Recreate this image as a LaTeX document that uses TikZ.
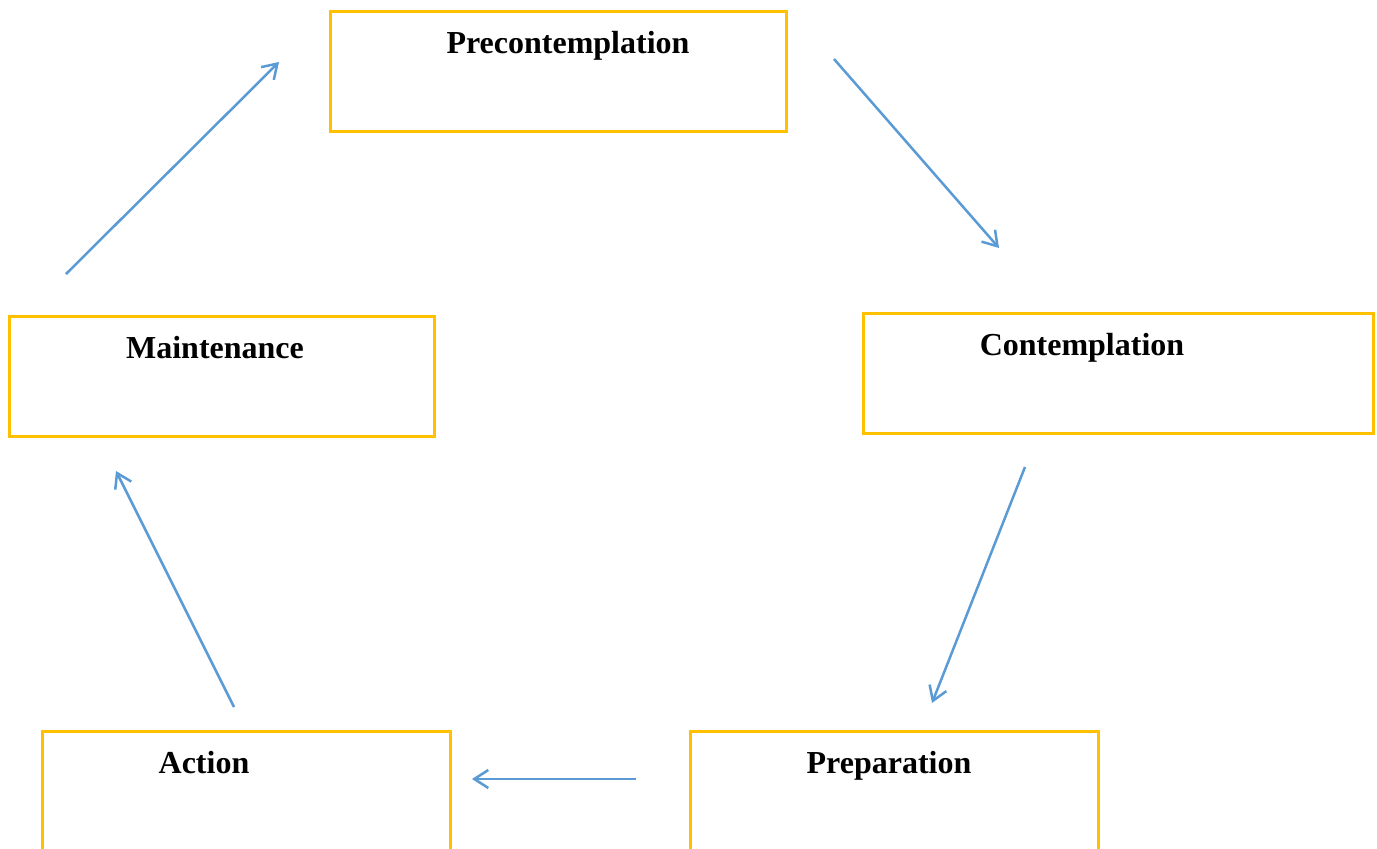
\documentclass[tikz,border=0pt]{standalone}
\usepackage{fontspec}
\setmainfont{Liberation Serif}
\usetikzlibrary{arrows.meta}
\definecolor{boxgold}{HTML}{FFC000}
\definecolor{arrowblue}{HTML}{5B9BD5}
\begin{document}
\begin{tikzpicture}[x=1pt,y=-1pt,
  stagebox/.style={draw=boxgold,line width=3pt},
  stagetext/.style={font=\bfseries\fontsize{32}{38}\selectfont,anchor=base,inner sep=0pt},
  flow/.style={draw=arrowblue,line width=2.5pt,-{Straight Barb[length=14pt,width=18pt,line width=2.5pt]}}]
\useasboundingbox (0,0) rectangle (1377,849);
\clip (0,0) rectangle (1377,849);
\fill[white] (0,0) rectangle (1377,849);
% boxes
\draw[stagebox] (330,11) rectangle (786,131);
\draw[stagebox] (863,313) rectangle (1373,433);
\draw[stagebox] (9,316) rectangle (434,436);
\draw[stagebox] (42,731) rectangle (450,880);
\draw[stagebox] (690,731) rectangle (1098,880);
% texts
\node[stagetext] (pre) at (568,53) {Precontemplation};
\node[stagetext] (con) at (1082,355) {Contemplation};
\node[stagetext] (mai) at (215,358) {Maintenance};
\node[stagetext] (act) at (204,773) {Action};
\node[stagetext] (prep) at (889,773) {Preparation};
% arrow endpoints
\coordinate (a1) at (834,59);  \coordinate (b1) at (999,248);
\coordinate (a2) at (1025,467); \coordinate (b2) at (932,703);
\coordinate (a3) at (636,779); \coordinate (b3) at (472,779);
\coordinate (a4) at (234,707); \coordinate (b4) at (116,471);
\coordinate (a5) at (66,274);  \coordinate (b5) at (279,62);
\draw[flow] (a1) -- (b1);
\draw[flow] (a2) -- (b2);
\draw[flow] (a3) -- (b3);
\draw[flow] (a4) -- (b4);
\draw[flow] (a5) -- (b5);
\end{tikzpicture}
\end{document}
